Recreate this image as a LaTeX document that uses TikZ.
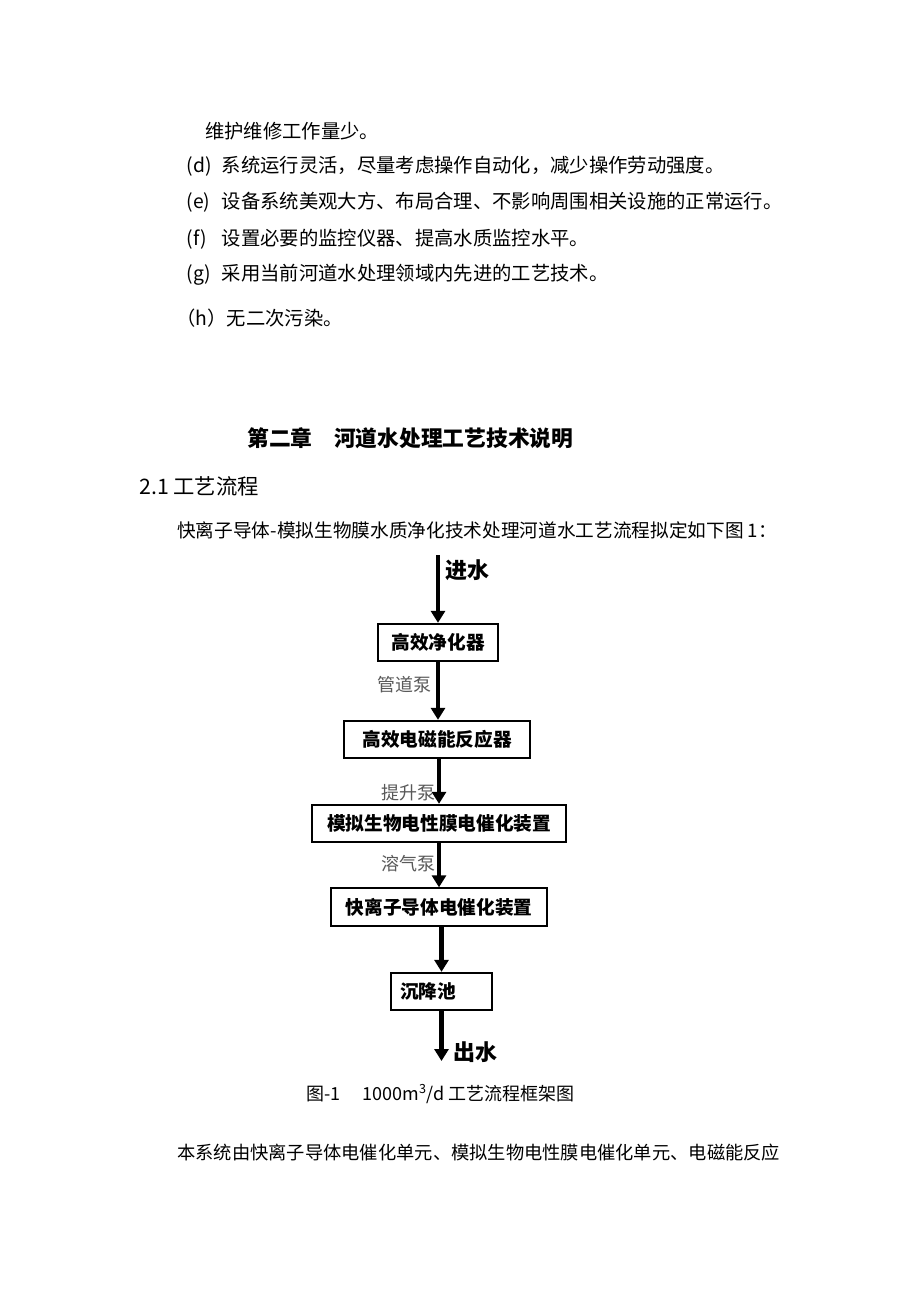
\documentclass[tikz,border=0pt]{standalone}
\usepackage{fontspec}
\setmainfont{Noto Sans CJK SC}
\usepackage{tikz}
\usetikzlibrary{arrows.meta}
\usetikzlibrary{positioning}
\tikzstyle{body} = [anchor=west, inner sep=0pt, font=\fontsize{14.5}{16}\selectfont]
\tikzstyle{unit} = [rectangle, draw, line width=1.5pt, minimum height=28pt,
inner sep=0pt, font=\bfseries\fontsize{14}{16}\selectfont]
\tikzstyle{pump} = [anchor=east, inner sep=0pt, text=black!65, font=\fontsize{13.5}{15}\selectfont]
\tikzstyle{water} = [anchor=west, inner sep=0pt, font=\bfseries\fontsize{16.5}{18}\selectfont]
\tikzstyle{line} = [draw, line width=3.6pt, -{Triangle[width=10.5pt,length=9pt]}]
\newcommand{\itemmark}[1]{\makebox[29pt][l]{\,(#1)}}

\begin{document}
\begin{tikzpicture}[x=0.75pt, y=-0.75pt]
	\useasboundingbox [fill=white] (0,0) rectangle (920,1302);
	% text above the chart
	\node [body] at (205,131) (l0) {维护维修工作量少。};
	\node [body] at (183,166) (ld) {\itemmark{d}系统运行灵活，尽量考虑操作自动化，减少操作劳动强度。};
	\node [body] at (183,202) (le) {\itemmark{e}设备系统美观大方、布局合理、不影响周围相关设施的正常运行。};
	\node [body] at (183,239) (lf) {\itemmark{f}设置必要的监控仪器、提高水质监控水平。};
	\node [body] at (183,275) (lg) {\itemmark{g}采用当前河道水处理领域内先进的工艺技术。};
	\node [body] at (176,318) (lh) {（h）无二次污染。};
	\node [body, font=\bfseries\fontsize{16.3}{18}\selectfont] at (247,438) (chap) {第二章\quad 河道水处理工艺技术说明};
	\node [body, font=\fontsize{16}{18}\selectfont] at (139,486) (sec) {2.1 工艺流程};
	\node [body, font=\fontsize{14}{16}\selectfont] at (177,530) (intro) {快离子导体-模拟生物膜水质净化技术处理河道水工艺流程拟定如下图 1：};
	% flow chart
	\coordinate (in) at (438,555);
	\node [unit, minimum width=90pt] at (438,642.5) (purifier) {高效净化器};
	\node [unit, minimum width=140pt] at (437,739.5) (reactor) {高效电磁能反应器};
	\node [unit, minimum width=190pt] at (439,823.5) (membrane) {模拟生物电性膜电催化装置};
	\node [unit, minimum width=162pt] at (439,907) (ionic) {快离子导体电催化装置};
	\node [unit, minimum width=76pt, text width=62pt] at (441.5,991.5) (settle) {沉降池};
	\coordinate (out) at (441.5,1061);
	\node [water] at (445,570) (inlabel) {进水};
	\node [water] at (453,1052) (outlabel) {出水};
	\node [pump] at (432,685) (p1) {管道泵};
	\node [pump] at (436,793) (p2) {提升泵};
	\node [pump] at (436,864) (p3) {溶气泵};
	\path [line] (in) -- (purifier.north);
	\path [line] (purifier.south) -- (purifier.south |- reactor.north);
	\path [line] (reactor.south -| membrane.north) -- (membrane.north);
	\path [line] (membrane.south) -- (ionic.north);
	\path [line] (ionic.south -| settle.north) -- (settle.north);
	\path [line] (settle.south) -- (out);
	% caption and text below
	\node [body, font=\fontsize{13.5}{15}\selectfont] at (306,1094) (caption) {图-1\quad\ 1000m\textsuperscript{3}/d 工艺流程框架图};
	\node [body, font=\fontsize{13.7}{15}\selectfont] at (177,1153) (next) {本系统由快离子导体电催化单元、模拟生物电性膜电催化单元、电磁能反应};
\end{tikzpicture}
\end{document}
